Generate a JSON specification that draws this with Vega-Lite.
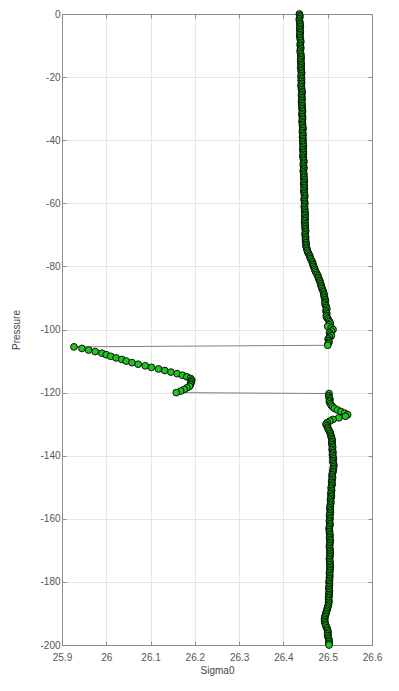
{
  "$schema": "https://vega.github.io/schema/vega-lite/v6.json",
  "width": 310,
  "height": 631,
  "autosize": "none",
  "padding": {"left": 62, "top": 14, "right": 27, "bottom": 46},
  "background": "white",
  "config": {
    "view": {"stroke": null},
    "font": "Liberation Sans",
    "axis": {
      "domainColor": "#8c8c8c",
      "domainWidth": 1,
      "tickColor": "#8c8c8c",
      "tickSize": -4,
      "labelColor": "#555555",
      "labelFontSize": 10,
      "labelFlush": false,
      "titleColor": "#444444",
      "titleFontSize": 10,
      "titleFontWeight": "normal",
      "gridColor": "#e6e6e6",
      "gridWidth": 1
    }
  },
  "data": {
    "values": [
      {"pressure": 0, "sigma0": 26.436}, {"pressure": -0.5, "sigma0": 26.437}, {"pressure": -1, "sigma0": 26.437}, {"pressure": -1.5, "sigma0": 26.436}, {"pressure": -2, "sigma0": 26.436}, {"pressure": -2.5, "sigma0": 26.437}, {"pressure": -3, "sigma0": 26.437}, {"pressure": -3.5, "sigma0": 26.438}, {"pressure": -4, "sigma0": 26.438}, {"pressure": -4.5, "sigma0": 26.437},
      {"pressure": -5, "sigma0": 26.437}, {"pressure": -5.5, "sigma0": 26.438}, {"pressure": -6, "sigma0": 26.438}, {"pressure": -6.5, "sigma0": 26.437}, {"pressure": -7, "sigma0": 26.437}, {"pressure": -7.5, "sigma0": 26.438}, {"pressure": -8, "sigma0": 26.438}, {"pressure": -8.5, "sigma0": 26.439}, {"pressure": -9, "sigma0": 26.439}, {"pressure": -9.5, "sigma0": 26.438},
      {"pressure": -10, "sigma0": 26.438}, {"pressure": -10.5, "sigma0": 26.439}, {"pressure": -11, "sigma0": 26.439}, {"pressure": -11.5, "sigma0": 26.438}, {"pressure": -12, "sigma0": 26.438}, {"pressure": -12.5, "sigma0": 26.439}, {"pressure": -13, "sigma0": 26.439}, {"pressure": -13.5, "sigma0": 26.44}, {"pressure": -14, "sigma0": 26.44}, {"pressure": -14.5, "sigma0": 26.439},
      {"pressure": -15, "sigma0": 26.439}, {"pressure": -15.5, "sigma0": 26.44}, {"pressure": -16, "sigma0": 26.44}, {"pressure": -16.5, "sigma0": 26.44}, {"pressure": -17, "sigma0": 26.439}, {"pressure": -17.5, "sigma0": 26.44}, {"pressure": -18, "sigma0": 26.44}, {"pressure": -18.5, "sigma0": 26.441}, {"pressure": -19, "sigma0": 26.441}, {"pressure": -19.5, "sigma0": 26.44},
      {"pressure": -20, "sigma0": 26.44}, {"pressure": -20.5, "sigma0": 26.441}, {"pressure": -21, "sigma0": 26.44}, {"pressure": -21.5, "sigma0": 26.441}, {"pressure": -22, "sigma0": 26.441}, {"pressure": -22.5, "sigma0": 26.44}, {"pressure": -23, "sigma0": 26.44}, {"pressure": -23.5, "sigma0": 26.441}, {"pressure": -24, "sigma0": 26.441}, {"pressure": -24.5, "sigma0": 26.442},
      {"pressure": -25, "sigma0": 26.442}, {"pressure": -25.5, "sigma0": 26.441}, {"pressure": -26, "sigma0": 26.441}, {"pressure": -26.5, "sigma0": 26.442}, {"pressure": -27, "sigma0": 26.442}, {"pressure": -27.5, "sigma0": 26.441}, {"pressure": -28, "sigma0": 26.441}, {"pressure": -28.5, "sigma0": 26.442}, {"pressure": -29, "sigma0": 26.442}, {"pressure": -29.5, "sigma0": 26.442},
      {"pressure": -30, "sigma0": 26.442}, {"pressure": -30.5, "sigma0": 26.443}, {"pressure": -31, "sigma0": 26.443}, {"pressure": -31.5, "sigma0": 26.442}, {"pressure": -32, "sigma0": 26.442}, {"pressure": -32.5, "sigma0": 26.443}, {"pressure": -33, "sigma0": 26.443}, {"pressure": -33.5, "sigma0": 26.443}, {"pressure": -34, "sigma0": 26.442}, {"pressure": -34.5, "sigma0": 26.443},
      {"pressure": -35, "sigma0": 26.443}, {"pressure": -35.5, "sigma0": 26.443}, {"pressure": -36, "sigma0": 26.444}, {"pressure": -36.5, "sigma0": 26.444}, {"pressure": -37, "sigma0": 26.443}, {"pressure": -37.5, "sigma0": 26.443}, {"pressure": -38, "sigma0": 26.444}, {"pressure": -38.5, "sigma0": 26.444}, {"pressure": -39, "sigma0": 26.443}, {"pressure": -39.5, "sigma0": 26.444},
      {"pressure": -40, "sigma0": 26.444}, {"pressure": -40.5, "sigma0": 26.444}, {"pressure": -41, "sigma0": 26.444}, {"pressure": -41.5, "sigma0": 26.445}, {"pressure": -42, "sigma0": 26.445}, {"pressure": -42.5, "sigma0": 26.444}, {"pressure": -43, "sigma0": 26.444}, {"pressure": -43.5, "sigma0": 26.445}, {"pressure": -44, "sigma0": 26.445}, {"pressure": -44.5, "sigma0": 26.445},
      {"pressure": -45, "sigma0": 26.444}, {"pressure": -45.5, "sigma0": 26.445}, {"pressure": -46, "sigma0": 26.445}, {"pressure": -46.5, "sigma0": 26.446}, {"pressure": -47, "sigma0": 26.446}, {"pressure": -47.5, "sigma0": 26.445}, {"pressure": -48, "sigma0": 26.445}, {"pressure": -48.5, "sigma0": 26.446}, {"pressure": -49, "sigma0": 26.446}, {"pressure": -49.5, "sigma0": 26.445},
      {"pressure": -50, "sigma0": 26.445}, {"pressure": -50.5, "sigma0": 26.446}, {"pressure": -51, "sigma0": 26.446}, {"pressure": -51.5, "sigma0": 26.446}, {"pressure": -52, "sigma0": 26.446}, {"pressure": -52.5, "sigma0": 26.447}, {"pressure": -53, "sigma0": 26.447}, {"pressure": -53.5, "sigma0": 26.446}, {"pressure": -54, "sigma0": 26.446}, {"pressure": -54.5, "sigma0": 26.447},
      {"pressure": -55, "sigma0": 26.447}, {"pressure": -55.5, "sigma0": 26.447}, {"pressure": -56, "sigma0": 26.446}, {"pressure": -56.5, "sigma0": 26.447}, {"pressure": -57, "sigma0": 26.447}, {"pressure": -57.5, "sigma0": 26.448}, {"pressure": -58, "sigma0": 26.448}, {"pressure": -58.5, "sigma0": 26.447}, {"pressure": -59, "sigma0": 26.447}, {"pressure": -59.5, "sigma0": 26.448},
      {"pressure": -60, "sigma0": 26.448}, {"pressure": -60.5, "sigma0": 26.448}, {"pressure": -61, "sigma0": 26.447}, {"pressure": -61.5, "sigma0": 26.448}, {"pressure": -62, "sigma0": 26.448}, {"pressure": -62.5, "sigma0": 26.448}, {"pressure": -63, "sigma0": 26.449}, {"pressure": -63.5, "sigma0": 26.449}, {"pressure": -64, "sigma0": 26.448}, {"pressure": -64.5, "sigma0": 26.449},
      {"pressure": -65, "sigma0": 26.449}, {"pressure": -65.5, "sigma0": 26.448}, {"pressure": -66, "sigma0": 26.448}, {"pressure": -66.5, "sigma0": 26.449}, {"pressure": -67, "sigma0": 26.449}, {"pressure": -67.5, "sigma0": 26.449}, {"pressure": -68, "sigma0": 26.449}, {"pressure": -68.5, "sigma0": 26.45}, {"pressure": -69, "sigma0": 26.45}, {"pressure": -69.5, "sigma0": 26.449},
      {"pressure": -70, "sigma0": 26.449}, {"pressure": -70.5, "sigma0": 26.45}, {"pressure": -71, "sigma0": 26.45}, {"pressure": -71.5, "sigma0": 26.45}, {"pressure": -72, "sigma0": 26.45}, {"pressure": -72.5, "sigma0": 26.451}, {"pressure": -73, "sigma0": 26.451}, {"pressure": -73.5, "sigma0": 26.451}, {"pressure": -74, "sigma0": 26.452}, {"pressure": -74.5, "sigma0": 26.453},
      {"pressure": -75, "sigma0": 26.454}, {"pressure": -75.5, "sigma0": 26.455}, {"pressure": -76, "sigma0": 26.457}, {"pressure": -76.5, "sigma0": 26.459}, {"pressure": -77, "sigma0": 26.46}, {"pressure": -77.5, "sigma0": 26.461}, {"pressure": -78, "sigma0": 26.463}, {"pressure": -78.5, "sigma0": 26.465}, {"pressure": -79, "sigma0": 26.466}, {"pressure": -79.5, "sigma0": 26.467},
      {"pressure": -80, "sigma0": 26.468}, {"pressure": -80.5, "sigma0": 26.47}, {"pressure": -81, "sigma0": 26.471}, {"pressure": -81.5, "sigma0": 26.472}, {"pressure": -82, "sigma0": 26.474}, {"pressure": -82.5, "sigma0": 26.476}, {"pressure": -83, "sigma0": 26.478}, {"pressure": -83.5, "sigma0": 26.479}, {"pressure": -84, "sigma0": 26.48}, {"pressure": -84.5, "sigma0": 26.482},
      {"pressure": -85, "sigma0": 26.483}, {"pressure": -85.5, "sigma0": 26.484}, {"pressure": -86, "sigma0": 26.485}, {"pressure": -86.5, "sigma0": 26.486}, {"pressure": -87, "sigma0": 26.487}, {"pressure": -87.5, "sigma0": 26.489}, {"pressure": -88, "sigma0": 26.49}, {"pressure": -88.5, "sigma0": 26.491}, {"pressure": -89, "sigma0": 26.492}, {"pressure": -89.5, "sigma0": 26.492},
      {"pressure": -90, "sigma0": 26.493}, {"pressure": -90.5, "sigma0": 26.494}, {"pressure": -91, "sigma0": 26.495}, {"pressure": -91.5, "sigma0": 26.494}, {"pressure": -92, "sigma0": 26.494}, {"pressure": -92.5, "sigma0": 26.496}, {"pressure": -93, "sigma0": 26.497}, {"pressure": -93.5, "sigma0": 26.498}, {"pressure": -94, "sigma0": 26.496}, {"pressure": -94.5, "sigma0": 26.497},
      {"pressure": -95, "sigma0": 26.498}, {"pressure": -95.5, "sigma0": 26.497}, {"pressure": -96, "sigma0": 26.497}, {"pressure": -96.5, "sigma0": 26.5}, {"pressure": -97, "sigma0": 26.502}, {"pressure": -97.5, "sigma0": 26.504}, {"pressure": -98, "sigma0": 26.506}, {"pressure": -98.5, "sigma0": 26.503}, {"pressure": -99, "sigma0": 26.5}, {"pressure": -99.5, "sigma0": 26.508},
      {"pressure": -100, "sigma0": 26.512}, {"pressure": -100.5, "sigma0": 26.509}, {"pressure": -101, "sigma0": 26.504}, {"pressure": -101.5, "sigma0": 26.506}, {"pressure": -102, "sigma0": 26.508}, {"pressure": -102.5, "sigma0": 26.504}, {"pressure": -103, "sigma0": 26.501}, {"pressure": -103.5, "sigma0": 26.502}, {"pressure": -104, "sigma0": 26.503}, {"pressure": -104.5, "sigma0": 26.501},
      {"pressure": -105, "sigma0": 26.5},
      {"pressure": -105.5, "sigma0": 25.927}, {"pressure": -106, "sigma0": 25.945}, {"pressure": -106.5, "sigma0": 25.96}, {"pressure": -107, "sigma0": 25.975}, {"pressure": -107.5, "sigma0": 25.99}, {"pressure": -108, "sigma0": 26.0}, {"pressure": -108.5, "sigma0": 26.01}, {"pressure": -109, "sigma0": 26.022}, {"pressure": -109.5, "sigma0": 26.035}, {"pressure": -110, "sigma0": 26.045},
      {"pressure": -110.5, "sigma0": 26.058}, {"pressure": -111, "sigma0": 26.072}, {"pressure": -111.5, "sigma0": 26.088}, {"pressure": -112, "sigma0": 26.102}, {"pressure": -112.5, "sigma0": 26.118}, {"pressure": -113, "sigma0": 26.132}, {"pressure": -113.5, "sigma0": 26.146}, {"pressure": -114, "sigma0": 26.16}, {"pressure": -114.5, "sigma0": 26.172}, {"pressure": -115, "sigma0": 26.182},
      {"pressure": -115.5, "sigma0": 26.19}, {"pressure": -116, "sigma0": 26.193}, {"pressure": -116.5, "sigma0": 26.192}, {"pressure": -117, "sigma0": 26.191}, {"pressure": -117.5, "sigma0": 26.19}, {"pressure": -118, "sigma0": 26.188}, {"pressure": -118.5, "sigma0": 26.182}, {"pressure": -119, "sigma0": 26.176}, {"pressure": -119.5, "sigma0": 26.168}, {"pressure": -120, "sigma0": 26.158},
      {"pressure": -120.3, "sigma0": 26.503}, {"pressure": -121, "sigma0": 26.502}, {"pressure": -121.5, "sigma0": 26.503}, {"pressure": -122, "sigma0": 26.505}, {"pressure": -122.5, "sigma0": 26.504}, {"pressure": -123, "sigma0": 26.504}, {"pressure": -123.5, "sigma0": 26.506}, {"pressure": -124, "sigma0": 26.508}, {"pressure": -124.5, "sigma0": 26.511}, {"pressure": -125, "sigma0": 26.515},
      {"pressure": -125.5, "sigma0": 26.522}, {"pressure": -126, "sigma0": 26.53}, {"pressure": -126.5, "sigma0": 26.538}, {"pressure": -127, "sigma0": 26.545}, {"pressure": -127.5, "sigma0": 26.54}, {"pressure": -128, "sigma0": 26.525}, {"pressure": -128.5, "sigma0": 26.512}, {"pressure": -129, "sigma0": 26.505}, {"pressure": -129.5, "sigma0": 26.499}, {"pressure": -130, "sigma0": 26.496},
      {"pressure": -130.5, "sigma0": 26.498}, {"pressure": -131, "sigma0": 26.5}, {"pressure": -131.5, "sigma0": 26.501}, {"pressure": -132, "sigma0": 26.503}, {"pressure": -132.5, "sigma0": 26.505}, {"pressure": -133, "sigma0": 26.506}, {"pressure": -133.5, "sigma0": 26.507}, {"pressure": -134, "sigma0": 26.508}, {"pressure": -134.5, "sigma0": 26.509}, {"pressure": -135, "sigma0": 26.51},
      {"pressure": -135.5, "sigma0": 26.51}, {"pressure": -136, "sigma0": 26.509}, {"pressure": -136.5, "sigma0": 26.51}, {"pressure": -137, "sigma0": 26.511}, {"pressure": -137.5, "sigma0": 26.511}, {"pressure": -138, "sigma0": 26.51}, {"pressure": -138.5, "sigma0": 26.511}, {"pressure": -139, "sigma0": 26.512}, {"pressure": -139.5, "sigma0": 26.511}, {"pressure": -140, "sigma0": 26.511},
      {"pressure": -140.5, "sigma0": 26.512}, {"pressure": -141, "sigma0": 26.513}, {"pressure": -141.5, "sigma0": 26.512}, {"pressure": -142, "sigma0": 26.512}, {"pressure": -142.5, "sigma0": 26.513}, {"pressure": -143, "sigma0": 26.514}, {"pressure": -143.5, "sigma0": 26.513}, {"pressure": -144, "sigma0": 26.513}, {"pressure": -144.5, "sigma0": 26.512}, {"pressure": -145, "sigma0": 26.512},
      {"pressure": -145.5, "sigma0": 26.511}, {"pressure": -146, "sigma0": 26.51}, {"pressure": -146.5, "sigma0": 26.51}, {"pressure": -147, "sigma0": 26.511}, {"pressure": -147.5, "sigma0": 26.51}, {"pressure": -148, "sigma0": 26.509}, {"pressure": -148.5, "sigma0": 26.509}, {"pressure": -149, "sigma0": 26.51}, {"pressure": -149.5, "sigma0": 26.509}, {"pressure": -150, "sigma0": 26.508},
      {"pressure": -150.5, "sigma0": 26.508}, {"pressure": -151, "sigma0": 26.509}, {"pressure": -151.5, "sigma0": 26.508}, {"pressure": -152, "sigma0": 26.507}, {"pressure": -152.5, "sigma0": 26.508}, {"pressure": -153, "sigma0": 26.508}, {"pressure": -153.5, "sigma0": 26.507}, {"pressure": -154, "sigma0": 26.506}, {"pressure": -154.5, "sigma0": 26.507}, {"pressure": -155, "sigma0": 26.507},
      {"pressure": -155.5, "sigma0": 26.506}, {"pressure": -156, "sigma0": 26.506}, {"pressure": -156.5, "sigma0": 26.505}, {"pressure": -157, "sigma0": 26.505}, {"pressure": -157.5, "sigma0": 26.506}, {"pressure": -158, "sigma0": 26.506}, {"pressure": -158.5, "sigma0": 26.505}, {"pressure": -159, "sigma0": 26.504}, {"pressure": -159.5, "sigma0": 26.505}, {"pressure": -160, "sigma0": 26.505},
      {"pressure": -160.5, "sigma0": 26.504}, {"pressure": -161, "sigma0": 26.504}, {"pressure": -161.5, "sigma0": 26.505}, {"pressure": -162, "sigma0": 26.505}, {"pressure": -162.5, "sigma0": 26.504}, {"pressure": -163, "sigma0": 26.503}, {"pressure": -163.5, "sigma0": 26.504}, {"pressure": -164, "sigma0": 26.504}, {"pressure": -164.5, "sigma0": 26.504}, {"pressure": -165, "sigma0": 26.505},
      {"pressure": -165.5, "sigma0": 26.505}, {"pressure": -166, "sigma0": 26.504}, {"pressure": -166.5, "sigma0": 26.505}, {"pressure": -167, "sigma0": 26.506}, {"pressure": -167.5, "sigma0": 26.505}, {"pressure": -168, "sigma0": 26.505}, {"pressure": -168.5, "sigma0": 26.504}, {"pressure": -169, "sigma0": 26.504}, {"pressure": -169.5, "sigma0": 26.505}, {"pressure": -170, "sigma0": 26.505},
      {"pressure": -170.5, "sigma0": 26.505}, {"pressure": -171, "sigma0": 26.506}, {"pressure": -171.5, "sigma0": 26.505}, {"pressure": -172, "sigma0": 26.505}, {"pressure": -172.5, "sigma0": 26.504}, {"pressure": -173, "sigma0": 26.504}, {"pressure": -173.5, "sigma0": 26.505}, {"pressure": -174, "sigma0": 26.505}, {"pressure": -174.5, "sigma0": 26.505}, {"pressure": -175, "sigma0": 26.506},
      {"pressure": -175.5, "sigma0": 26.505}, {"pressure": -176, "sigma0": 26.505}, {"pressure": -176.5, "sigma0": 26.505}, {"pressure": -177, "sigma0": 26.504}, {"pressure": -177.5, "sigma0": 26.504}, {"pressure": -178, "sigma0": 26.505}, {"pressure": -178.5, "sigma0": 26.504}, {"pressure": -179, "sigma0": 26.504}, {"pressure": -179.5, "sigma0": 26.504}, {"pressure": -180, "sigma0": 26.503},
      {"pressure": -180.5, "sigma0": 26.504}, {"pressure": -181, "sigma0": 26.504}, {"pressure": -181.5, "sigma0": 26.503}, {"pressure": -182, "sigma0": 26.503}, {"pressure": -182.5, "sigma0": 26.503}, {"pressure": -183, "sigma0": 26.504}, {"pressure": -183.5, "sigma0": 26.503}, {"pressure": -184, "sigma0": 26.503}, {"pressure": -184.5, "sigma0": 26.503}, {"pressure": -185, "sigma0": 26.502},
      {"pressure": -185.5, "sigma0": 26.502}, {"pressure": -186, "sigma0": 26.503}, {"pressure": -186.5, "sigma0": 26.502}, {"pressure": -187, "sigma0": 26.502}, {"pressure": -187.5, "sigma0": 26.501}, {"pressure": -188, "sigma0": 26.5}, {"pressure": -188.5, "sigma0": 26.499}, {"pressure": -189, "sigma0": 26.498}, {"pressure": -189.5, "sigma0": 26.497}, {"pressure": -190, "sigma0": 26.496},
      {"pressure": -190.5, "sigma0": 26.495}, {"pressure": -191, "sigma0": 26.494}, {"pressure": -191.5, "sigma0": 26.493}, {"pressure": -192, "sigma0": 26.493}, {"pressure": -192.5, "sigma0": 26.493}, {"pressure": -193, "sigma0": 26.494}, {"pressure": -193.5, "sigma0": 26.495}, {"pressure": -194, "sigma0": 26.496}, {"pressure": -194.5, "sigma0": 26.498}, {"pressure": -195, "sigma0": 26.499},
      {"pressure": -195.5, "sigma0": 26.5}, {"pressure": -196, "sigma0": 26.501}, {"pressure": -196.5, "sigma0": 26.5}, {"pressure": -197, "sigma0": 26.5}, {"pressure": -197.5, "sigma0": 26.501}, {"pressure": -198, "sigma0": 26.502}, {"pressure": -198.5, "sigma0": 26.503}, {"pressure": -199, "sigma0": 26.503}, {"pressure": -199.5, "sigma0": 26.503}, {"pressure": -200, "sigma0": 26.503}
    ]
  },
  "layer": [
    {
      "mark": {"type": "line", "color": "#7f7f7f", "strokeWidth": 1},
      "encoding": {
        "x": {"field": "sigma0", "type": "quantitative", "scale": {"domain": [25.9, 26.6], "nice": false, "zero": false},
              "axis": {"orient": "top", "labels": false, "title": null, "grid": false, "values": [25.9, 26, 26.1, 26.2, 26.3, 26.4, 26.5, 26.6]}},
        "y": {"field": "pressure", "type": "quantitative", "scale": {"domain": [-200, 0], "nice": false, "zero": false},
              "axis": {"orient": "right", "labels": false, "title": null, "grid": false, "values": [-200, -180, -160, -140, -120, -100, -80, -60, -40, -20, 0]}},
        "order": {"field": "pressure", "sort": "descending"}
      }
    },
    {
      "mark": {"type": "point", "shape": "circle", "filled": true, "fill": "#22c422", "stroke": "#000000", "strokeWidth": 0.9, "size": 46, "opacity": 1},
      "encoding": {
        "x": {"field": "sigma0", "type": "quantitative",
              "axis": {"orient": "bottom", "title": "Sigma0", "grid": true, "format": ".1~f", "labelPadding": 11, "titlePadding": 3, "values": [25.9, 26, 26.1, 26.2, 26.3, 26.4, 26.5, 26.6]}},
        "y": {"field": "pressure", "type": "quantitative",
              "axis": {"orient": "left", "title": "Pressure", "grid": true, "labelExpr": "'' + datum.value", "labelPadding": 6, "titlePadding": 18, "values": [-200, -180, -160, -140, -120, -100, -80, -60, -40, -20, 0]}}
      }
    }
  ],
  "resolve": {"axis": {"x": "independent", "y": "independent"}}
}
